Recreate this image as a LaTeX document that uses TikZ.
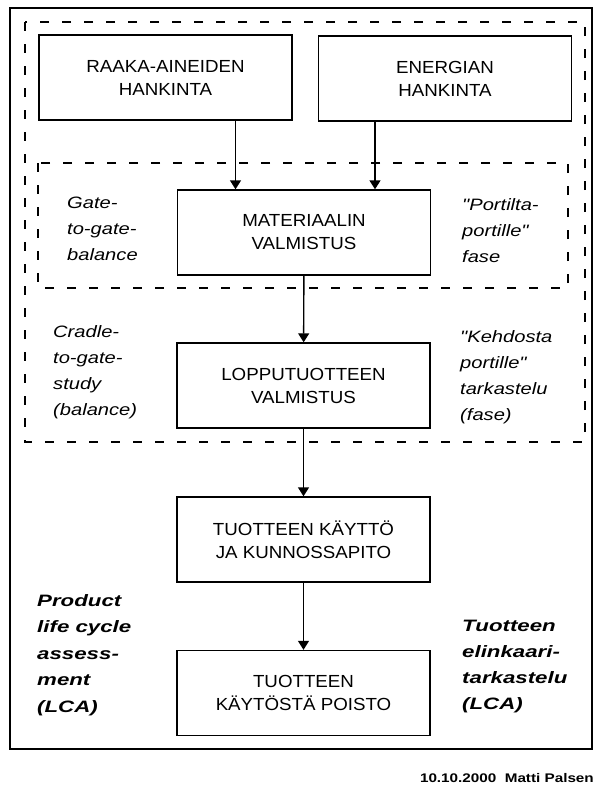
\documentclass[tikz,border=0pt]{standalone}
\usepackage{fontspec}
\setmainfont{Liberation Sans}
\newfontfamily\widefont[FakeStretch=1.07]{Liberation Sans}
\newfontfamily\notefont[FakeStretch=1.22]{Liberation Sans}
\newfontfamily\lcafont[FakeStretch=1.35]{Liberation Sans}
\usetikzlibrary{arrows.meta}

\begin{document}
\begin{tikzpicture}[x=1pt,y=-1pt,
    phase/.style={draw,line width=1.4pt,minimum width=253pt,minimum height=85pt,
      align=center,inner sep=0pt,font=\widefont\fontsize{17.5}{23}\selectfont},
    note/.style={align=left,inner sep=0pt,anchor=north west,
      font=\notefont\fontsize{16.5}{26}\selectfont\itshape},
    flow/.style={line width=1.4pt,-{Triangle[width=11pt,length=9pt]}},
    zone/.style={line width=1.3pt,dash pattern=on 9pt off 13pt}]
    \useasboundingbox (0,0) rectangle (595,787);
    % frames
    \draw[line width=1.4pt] (10,8) rectangle (592,749);
    \draw[zone] (25,22) rectangle (585,442);
    \draw[zone] (38,163) rectangle (568,288);
    % life cycle phases
    \node[phase] (raaka) at (165.5,77.5) {RAAKA-AINEIDEN\\HANKINTA};
    \node[phase] (energia) at (445,78.5) {ENERGIAN\\HANKINTA};
    \node[phase] (mat) at (304,232.5) {MATERIAALIN\\VALMISTUS};
    \node[phase] (loppu) at (303.5,385.5) {LOPPUTUOTTEEN\\VALMISTUS};
    \node[phase] (kaytto) at (303.5,539.5) {TUOTTEEN KÄYTTÖ\\JA KUNNOSSAPITO};
    \node[phase] (poisto) at (303.5,693) {TUOTTEEN\\KÄYTÖSTÄ POISTO};
    \draw[flow] ([xshift=70pt]raaka.south) -- ([xshift=70pt]raaka.south |- mat.north);
    \draw[flow] ([xshift=-70pt]energia.south) -- ([xshift=-70pt]energia.south |- mat.north);
    \draw[flow] (mat) -- (loppu);
    \draw[flow] (loppu) -- (kaytto);
    \draw[flow] (kaytto) -- (poisto);
    % scope labels
    \node[note] (gate) at (67,197) {Gate-\\to-gate-\\balance};
    \node[note] (portilta) at (462,198) {"Portilta-\\portille"\\fase};
    \node[note] (cradle) at (53,325) {Cradle-\\to-gate-\\study\\(balance)};
    \node[note] (kehdosta) at (460,330) {"Kehdosta\\portille"\\tarkastelu\\(fase)};
    \node[note,font=\lcafont\fontsize{16.5}{26.5}\selectfont\bfseries\itshape] (lca) at (37,594)
      {Product\\life cycle\\assess-\\ment\\(LCA)};
    \node[note,font=\lcafont\fontsize{16.5}{26}\selectfont\bfseries\itshape] (elinkaari) at (462,620)
      {Tuotteen\\elinkaari-\\tarkastelu\\(LCA)};
    \node[anchor=east,inner sep=0pt,font=\notefont\fontsize{12.5}{14}\selectfont\bfseries] (pvm) at (594,778)
      {10.10.2000 \ Matti Palsen};
\end{tikzpicture}
\end{document}
